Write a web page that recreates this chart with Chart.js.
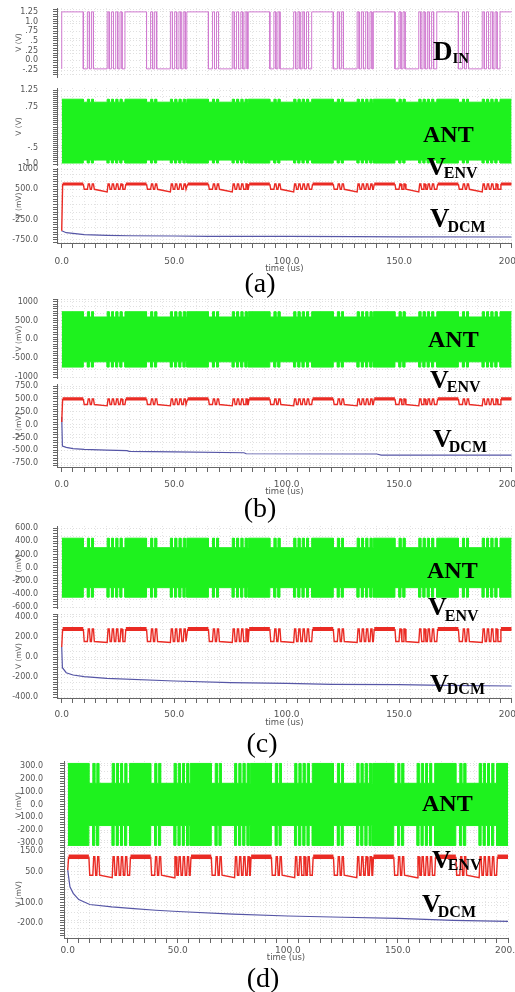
<!DOCTYPE html>
<html>
<head>
<meta charset="utf-8">
<script src="https://cdn.jsdelivr.net/npm/chart.js@4.4.1/dist/chart.umd.min.js"></script>
<style>
  html, body { margin: 0; padding: 0; background: #fff; }
  #wrap { position: relative; width: 515px; height: 992px; overflow: hidden; }
  #wrap canvas { position: absolute; left: 0; }
  #ann { position: absolute; left: 0; top: 0; z-index: 5; }
</style>
</head>
<body>
<div id="wrap">
<svg id="ann" width="515" height="992">
  <g font-family="'Liberation Serif','Times New Roman',serif" font-weight="bold" fill="#000">
    <text x="433" y="60" font-size="27">D<tspan font-size="15" dy="3">IN</tspan></text>
    <text x="423" y="142" font-size="24">ANT</text>
    <text x="427" y="175" font-size="26">V<tspan font-size="16" dy="3" dx="-2">ENV</tspan></text>
    <text x="430" y="227" font-size="27">V<tspan font-size="16" dy="5" dx="-2">DCM</tspan></text>

    <text x="428" y="347" font-size="24">ANT</text>
    <text x="430" y="388" font-size="26">V<tspan font-size="16" dy="4" dx="-2">ENV</tspan></text>
    <text x="433" y="447" font-size="26">V<tspan font-size="16" dy="5" dx="-3">DCM</tspan></text>

    <text x="427" y="578" font-size="24">ANT</text>
    <text x="428" y="615" font-size="26">V<tspan font-size="16" dy="6" dx="-2">ENV</tspan></text>
    <text x="430" y="692" font-size="26">V<tspan font-size="16" dy="2" dx="-2">DCM</tspan></text>

    <text x="422" y="811" font-size="24">ANT</text>
    <text x="432" y="868" font-size="26">V<tspan font-size="16" dy="2" dx="-3">ENV</tspan></text>
    <text x="422" y="912" font-size="26">V<tspan font-size="16" dy="5" dx="-3">DCM</tspan></text>
  </g>
  <g font-family="'Liberation Serif','Times New Roman',serif" font-size="28" text-anchor="middle" fill="#000">
    <text x="260" y="292">(a)</text>
    <text x="260" y="517">(b)</text>
    <text x="262" y="752">(c)</text>
    <text x="263" y="987">(d)</text>
  </g>
</svg>
</div>
<script>
/* ----- данные ----- */
const tMax = 200; // us

// начала кадров DIN (us) и фронты внутри кадра (us), уровень стартует с "1"
const frameStart = [0, 28.1, 55.6, 82.9, 111.1, 138.5, 166.7, 194.8];
const dinEdges = [9.6, 11.4, 12.3, 13.2, 14.1, 20.2, 21.1, 22.1, 23.0, 24.0, 24.9, 25.9, 26.8];
const dinLevels = [-0.22, 1.25]; // V: low, high

// огибающая ANT для панелей a..d (a в V, остальные в mV)
const antHigh = [0.97, 735, 447, 320];
const antLow  = [0.88, 595, 303, 165];

// уровни VENV (mV) для панелей a..d
const envHigh    = [630, 500, 280, 122];
const envPulseLo = [500, 390, 155, 32];
const envLongLo  = [435, 365, 145, 20];
const envStart   = [-520, 50, 100, 57];
const envEdge = 0.4; // us, фронт огибающей

// VDCM (mV)
const dcmTimeA = [0, 2, 5, 10, 20, 30, 50, 65, 100, 130, 150, 200];
const dcmA     = [-521, -570, -585, -619, -634, -645, -651, -659, -660, -669, -672, -676];
const dcmTimeB = [0, 0.3, 2, 5, 10, 20, 29, 30, 50, 81, 82, 140, 142, 200];
const dcmB     = [150, -414, -440, -465, -480, -495, -505, -520, -530, -545, -565, -570, -590, -590];
const dcmTimeC = [0, 0.3, 2, 5, 10, 20, 50, 75, 100, 120, 150, 170, 200];
const dcmC     = [100, -107, -157, -180, -197, -213, -240, -257, -263, -273, -277, -283, -290];
const dcmTimeD = [0, 1, 2.5, 5, 10, 20, 30, 40, 50, 75, 100, 125, 150, 175, 200];
const dcmD     = [57, -24, -56, -86, -110, -122, -130, -138, -144, -157, -166, -172, -178, -187, -192];

// подписи осей Y
const dinTickVals = [1.25, 1.0, 0.75, 0.5, 0.25, 0, -0.25];
const dinTickText = ['1.25', '1.0', '.75', '.5', '.25', '0.0', '-.25'];
const antTickValsA = [1.25, 0.75, -0.5, -1.0];
const antTickTextA = ['1.25', '.75', '-.5', '-1.0'];
const envTickValsA = [1000, 500, -250, -750];
const envTickTextA = ['1000', '500.0', '-250.0', '-750.0'];
const antTickValsB = [1000, 500, 0, -500, -1000];
const antTickTextB = ['1000', '500.0', '0.0', '-500.0', '-1000'];
const envTickValsB = [750, 500, 250, 0, -250, -500, -750];
const envTickTextB = ['750.0', '500.0', '250.0', '0.0', '-250.0', '-500.0', '-750.0'];
const antTickValsC = [600, 400, 200, 0, -200, -400, -600];
const antTickTextC = ['600.0', '400.0', '200.0', '0.0', '-200.0', '-400.0', '-600.0'];
const envTickValsC = [400, 200, 0, -200, -400];
const envTickTextC = ['400.0', '200.0', '0.0', '-200.0', '-400.0'];
const antTickValsD = [300, 200, 100, 0, -100, -200, -300];
const antTickTextD = ['300.0', '200.0', '100.0', '0.0', '-100.0', '-200.0', '-300.0'];
const envTickValsD = [150, 50, -100, -200];
const envTickTextD = ['150.0', '50.0', '-100.0', '-200.0'];

/* ----- цвета и шрифты ----- */
const C_DIN = '#d07ad0', C_ANT = '#1ef21e', C_ENV = '#ea2b24', C_DCM = '#5656a6';
const AX = '#555', AXLINE = '#666';
const envThick = [3.2, 3.4, 4, 4.5];

/* геометрия панелей (отступы в пикселях) */
const P = 12, AXH = 40;
const panels = [
  {yw: 57, xMin: -2.1, padR: 3.3, lp: 8.6, tp: 9.5, lpad: 15},
  {yw: 57, xMin: -2.1, padR: 3.3, lp: 6.8, tp: 9.9, lpad: 15},
  {yw: 57, xMin: -2.1, padR: 3.3, lp: 6.5, tp: 10.6, lpad: 15},
  {yw: 64, xMin: -1.7, padR: 7, lp: 1.8, tp: 15.6, lpad: 17}
];

/* сегменты DIN: [t0, t1, level] */
function dinSegments() {
  const segs = [];
  frameStart.forEach((f, i) => {
    const end = i + 1 < frameStart.length ? frameStart[i + 1] : tMax;
    let t = f, lvl = 1;
    dinEdges.forEach(e => {
      const te = f + e;
      if (te >= end) return;
      segs.push([t, te, lvl]);
      t = te; lvl = 1 - lvl;
    });
    segs.push([t, end, lvl]);
  });
  return segs;
}
const segs = dinSegments();

function dinPoints() {
  const pts = [{x: 0, y: dinLevels[0]}];
  segs.forEach(([a, b, l]) => pts.push({x: a, y: dinLevels[l]}, {x: b, y: dinLevels[l]}));
  return pts;
}

function antPoints(p, sign) {
  const pts = [];
  segs.forEach(([a, b, l]) => {
    const v = sign * (l ? antHigh[p] : antLow[p]);
    pts.push({x: a, y: v}, {x: b, y: v});
  });
  return pts;
}

function envPoints(p) {
  const pts = [{x: 0, y: envStart[p]}];
  segs.forEach(([a, b, l]) => {
    const r = Math.min(envEdge, (b - a) / 2);
    if (l) pts.push({x: a + r, y: envHigh[p]}, {x: b, y: envHigh[p]});
    else if (b - a > 3) pts.push({x: a + r, y: envPulseLo[p]}, {x: b, y: envLongLo[p]});
    else pts.push({x: a + r, y: envPulseLo[p]}, {x: b, y: envPulseLo[p]});
  });
  return pts;
}

function xy(ts, vs) { return ts.map((t, i) => ({x: t, y: vs[i]})); }

function antSets(p) {
  return [
    {data: antPoints(p, 1), borderColor: C_ANT, backgroundColor: C_ANT, borderWidth: 1, fill: '+1'},
    {data: antPoints(p, -1), borderColor: C_ANT, borderWidth: 1, fill: false}
  ];
}
function envSets(p, ts, vs) {
  return [
    {data: envPoints(p), borderColor: C_ENV, borderWidth: 1.4, fill: false,
      segment: {borderWidth: c => (c.p0.parsed.y === envHigh[p] && c.p1.parsed.y === envHigh[p] &&
        c.p1.parsed.x - c.p0.parsed.x > 2) ? envThick[p] : 1.4}},
    {data: xy(ts, vs), borderColor: C_DCM, borderWidth: 1.2, fill: false}
  ];
}

const strips = [
  {p: 0, top: 8, bottom: 77, min: -0.43, max: 1.35, vals: dinTickVals, text: dinTickText, minor: 0.0625, title: 'V (V)',
    sets: [{data: dinPoints(), borderColor: C_DIN, borderWidth: 1, fill: false}]},
  {p: 0, top: 88, bottom: 165, min: -1.03, max: 1.311, vals: antTickValsA, text: antTickTextA, minor: 0.0625, title: 'V (V)', sets: antSets(0)},
  {p: 0, top: 168, bottom: 243, min: -824, max: 1025, vals: envTickValsA, text: envTickTextA, minor: 62.5, title: 'V (mV)', axis: true,
    sets: envSets(0, dcmTimeA, dcmA)},

  {p: 1, top: 299, bottom: 378, min: -1025, max: 1073, vals: antTickValsB, text: antTickTextB, minor: 62.5, title: 'V (mV)', sets: antSets(1)},
  {p: 1, top: 384, bottom: 467, min: -822, max: 789, vals: envTickValsB, text: envTickTextB, minor: 50, title: 'V (mV)', axis: true,
    sets: envSets(1, dcmTimeB, dcmB)},

  {p: 2, top: 526, bottom: 608, min: -611, max: 632, vals: antTickValsC, text: antTickTextC, minor: 40, title: 'V (mV)', sets: antSets(2)},
  {p: 2, top: 614, bottom: 698, min: -410, max: 430, vals: envTickValsC, text: envTickTextC, minor: 25, title: 'V (mV)', axis: true,
    sets: envSets(2, dcmTimeC, dcmC)},

  {p: 3, top: 761, bottom: 849, min: -348, max: 339, vals: antTickValsD, text: antTickTextD, minor: 20, title: 'V (mV)', sets: antSets(3)},
  {p: 3, top: 850, bottom: 938, min: -273, max: 155, vals: envTickValsD, text: envTickTextD, minor: 12.5, title: 'V (mV)', axis: true,
    sets: envSets(3, dcmTimeD, dcmD)}
];

/* линейка оси Y: подписанные деления + мелкие */
function yTicks(s, sc) {
  const list = s.vals.map((v, i) => ({value: v, txt: s.text[i], lab: true}));
  let k = 0;
  for (let v = Math.ceil(sc.min / s.minor) * s.minor; v <= sc.max; v += s.minor, k++) {
    if (list.some(t => t.lab && Math.abs(t.value - v) < s.minor * 0.4)) continue;
    list.push({value: v, grid: k % 3 === 0});
  }
  list.sort((a, b) => a.value - b.value);
  return list;
}

const wrap = document.getElementById('wrap');

strips.forEach(s => {
  const g = panels[s.p];
  const cv = document.createElement('canvas');
  const h = P + (s.bottom - s.top) + (s.axis ? AXH : P);
  cv.width = 515; cv.height = h;
  cv.style.top = (s.top - P) + 'px';
  cv.style.width = '515px'; cv.style.height = h + 'px';
  wrap.appendChild(cv);

  new Chart(cv, {
    type: 'line',
    data: {datasets: s.sets},
    options: {
      responsive: false,
      animation: false,
      devicePixelRatio: 1,
      layout: {padding: {top: P, bottom: s.axis ? 0 : P, left: 0, right: g.padR}},
      elements: {point: {radius: 0}, line: {tension: 0}},
      plugins: {legend: {display: false}, tooltip: {enabled: false}},
      scales: {
        x: {
          type: 'linear', min: g.xMin, max: tMax,
          afterBuildTicks: sc => { const l = []; for (let v = 0; v <= tMax; v += 5) l.push({value: v}); sc.ticks = l; },
          afterFit: sc => { sc.paddingLeft = 0; sc.paddingRight = 0; sc.height = s.axis ? AXH : 0; },
          grid: {color: 'rgba(0,0,0,0.10)', tickColor: AXLINE, tickLength: 5, drawTicks: !!s.axis},
          border: {display: !!s.axis, color: AXLINE, dash: [1, 2]},
          ticks: {display: !!s.axis, autoSkip: false, maxRotation: 0, padding: g.lp,
            font: {family: 'DejaVu Sans', size: 9}, color: AX,
            callback: v => (v % 50 === 0 ? v.toFixed(1) : '')},
          title: {display: !!s.axis, text: 'time (us)', color: AX,
            font: {family: 'DejaVu Sans', size: 8.5}, padding: {top: 0, bottom: g.tp}}
        },
        y: {
          type: 'linear', min: s.min, max: s.max,
          afterBuildTicks: sc => { sc.ticks = yTicks(s, sc); },
          afterFit: sc => { sc.width = g.yw; sc.paddingTop = 0; sc.paddingBottom = 0; },
          grid: {color: c => (c.tick && (c.tick.lab || c.tick.grid)) ? 'rgba(0,0,0,0.12)' : 'rgba(0,0,0,0)',
            tickColor: AXLINE, tickLength: 4},
          border: {color: AXLINE, width: 1, dash: [1, 2]},
          ticks: {autoSkip: false, padding: g.lpad, font: {family: 'DejaVu Sans', size: 8}, color: AX,
            callback: (v, i, t) => (t[i] && t[i].txt) || ''},
          title: {display: true, text: s.title, color: AX,
            font: {family: 'DejaVu Sans', size: 7.5}, padding: {top: 15, bottom: 0}}
        }
      }
    }
  });
});
</script>
</body>
</html>
